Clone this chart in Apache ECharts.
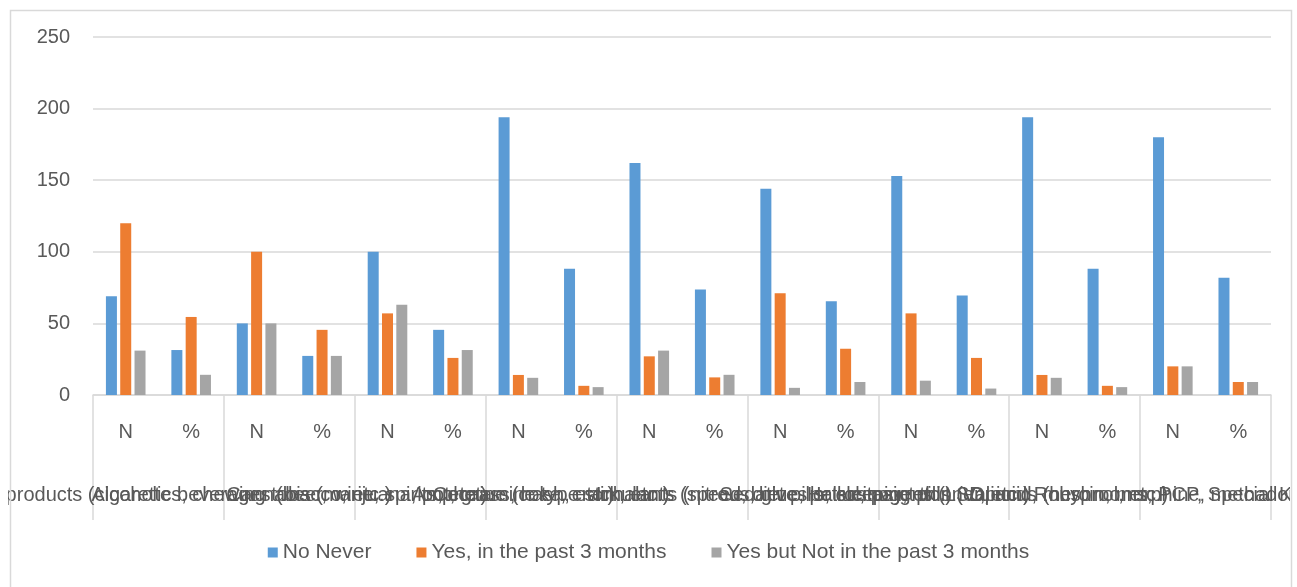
<!DOCTYPE html>
<html>
<head>
<meta charset="utf-8">
<script src="https://cdn.jsdelivr.net/npm/echarts@6/dist/echarts.min.js"></script>
<style>
  html, body { margin: 0; padding: 0; background: #fff; }
  #chart { width: 1297px; height: 587px; }
</style>
</head>
<body>
<div id="chart"></div>
<script>
// Substance groups (outer axis) and the two measures per group (inner axis)
const substances = [
  'Tobacco products (cigarettes, chewing tobacco, etc.)',
  'Alcoholic beverages (beer, wine, spirits, etc.)',
  'Cannabis (marijuana, pot, grass, hash, etc.)',
  'Cocaine (coke, crack, etc.)',
  'Amphetamine type stimulants (speed, diet pills, ecstasy, etc.)',
  'Inhalants (nitrous, glue, petrol, paint thinner, etc.)',
  'Sedatives or sleeping pills (Valium, Rohypnol, etc.)',
  'Hallucinogens (LSD, acid, mushrooms, PCP, Special K, etc.)',
  'Opioids (heroin, morphine, methadone, codeine, etc.)'
];
const measures = ['N', '%'];

// Values in N / % pairs, one pair per substance
const noNever      = [69, 31.4, 50, 27.3, 100, 45.5, 194, 88.2, 162, 73.6, 144, 65.5, 153, 69.5, 194, 88.2, 180, 81.8];
const yesPast3     = [120, 54.5, 100, 45.5, 57, 25.9, 14, 6.4, 27, 12.3, 71, 32.3, 57, 25.9, 14, 6.4, 20, 9.1];
const yesNotPast3  = [31, 14.1, 50, 27.3, 63, 31.4, 12, 5.5, 31, 14.1, 5, 9.1, 10, 4.5, 12, 5.5, 20, 9.1];

const seriesNames = ['No Never', 'Yes, in the past 3 months', 'Yes but Not in the past 3 months'];
const colors = ['#5B9BD5', '#ED7D31', '#A5A5A5'];
const yTicks = { min: 0, max: 250, interval: 50 };

const innerCategories = [];
substances.forEach(() => measures.forEach(m => innerCategories.push(m)));

const textColor = '#595959';
const lineColor = '#D9D9D9';
const font = 'Liberation Sans, Arial, sans-serif';

const chart = echarts.init(document.getElementById('chart'), null, { renderer: 'canvas' });

const makeBar = (name, data, color) => ({
  name,
  type: 'bar',
  data,
  xAxisIndex: 0,
  barWidth: 11,
  barGap: '30%',
  itemStyle: { color },
  emphasis: { disabled: true }
});

chart.setOption({
  animation: false,
  backgroundColor: '#fff',
  color: colors,
  textStyle: { fontFamily: font },
  grid: { left: 93, right: 26, top: 37, bottom: 192, containLabel: false, outerBoundsMode: 'none' },
  legend: {
    bottom: 19,
    left: 'center',
    icon: 'rect',
    itemWidth: 10,
    itemHeight: 10,
    itemGap: 45,
    itemStyle: { borderWidth: 0 },
    textStyle: { color: textColor, fontSize: 21, fontFamily: font, padding: [0, 0, 0, 0] },
    data: seriesNames
  },
  xAxis: [
    {
      type: 'category',
      data: innerCategories,
      position: 'bottom',
      axisLine: { show: true, lineStyle: { color: lineColor, width: 1.5 } },
      axisTick: { show: false },
      axisLabel: { interval: 0, color: textColor, fontSize: 20, margin: 27, fontFamily: font },
      splitLine: { show: false }
    },
    {
      type: 'category',
      data: substances,
      position: 'bottom',
      axisLine: { show: false },
      axisTick: { show: true, interval: 0, length: 125, lineStyle: { color: lineColor, width: 1.5 } },
      axisLabel: { interval: 0, color: textColor, fontSize: 20, margin: 90, fontFamily: font },
      splitLine: { show: false }
    }
  ],
  yAxis: {
    type: 'value',
    min: yTicks.min,
    max: yTicks.max,
    interval: yTicks.interval,
    axisLine: { show: false },
    axisTick: { show: false },
    axisLabel: { color: textColor, fontSize: 20, margin: 23, fontFamily: font },
    splitLine: { lineStyle: { color: lineColor, width: 1.5 } }
  },
  series: [
    makeBar(seriesNames[0], noNever, colors[0]),
    makeBar(seriesNames[1], yesPast3, colors[1]),
    makeBar(seriesNames[2], yesNotPast3, colors[2])
  ],
  graphic: [
    // white margins hide label overflow outside the chart frame
    { type: 'rect', left: 0, top: 0, z: 100, shape: { width: 8, height: 587 }, style: { fill: '#fff' } },
    { type: 'rect', right: 0, top: 0, z: 100, shape: { width: 7, height: 587 }, style: { fill: '#fff' } },
    // chart frame
    { type: 'rect', left: 8, top: 8, z: 101, shape: { x: 0.5, y: 0.5, width: 1281, height: 578 },
      style: { fill: 'none', stroke: lineColor, lineWidth: 1.5 } }
  ]
});
</script>
</body>
</html>
